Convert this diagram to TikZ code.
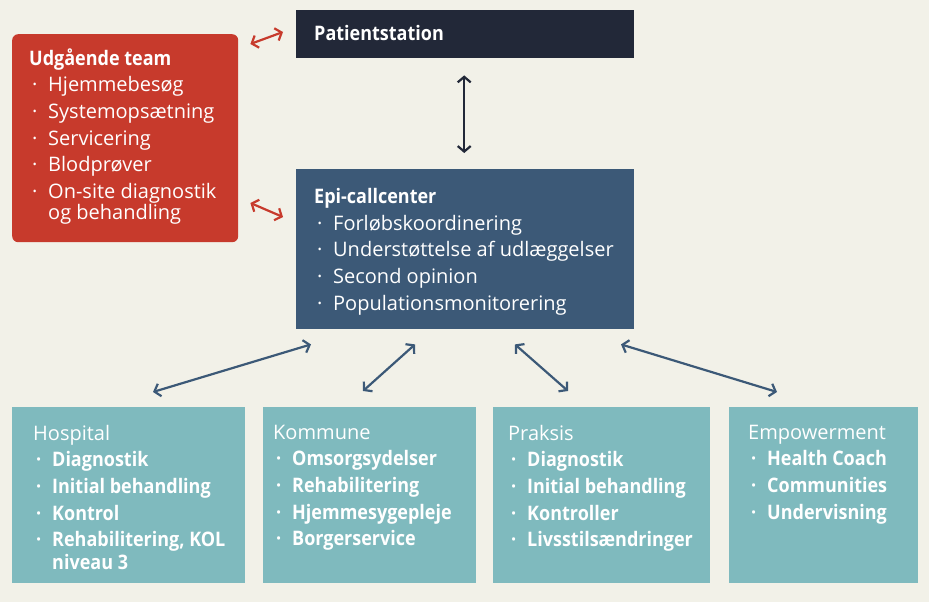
\documentclass[tikz,border=0pt]{standalone}
\usepackage{fontspec}
\setmainfont{Open Sans}[BoldFeatures={FakeStretch=0.9}]
\usetikzlibrary{arrows.meta,calc,positioning}
\definecolor{bgcream}{HTML}{F2F1E8}
\definecolor{navy}{HTML}{222838}
\definecolor{teamred}{HTML}{C73A2C}
\definecolor{epiblue}{HTML}{3C5977}
\definecolor{sea}{HTML}{7FBABE}
\newcommand{\itm}{\makebox[19pt][l]{\hspace{3pt}\textperiodcentered}}
\newcommand{\wrp}{\hspace*{19pt}}

\begin{document}
\begin{tikzpicture}[x=1pt, y=-1pt,
    box/.style={rectangle, inner sep=0pt, anchor=north west},
    txt/.style={anchor=north west, yshift=18.62pt, inner sep=0pt, align=left, text=white,
        font=\fontsize{20}{26.6}\selectfont, execute at begin node=\rule{0pt}{18.62pt}},
    btxt/.style={txt, font=\fontsize{20}{26.6}\selectfont\bfseries},
    arr/.style={line width=2.2pt, {Straight Barb[length=5.5pt,width=13pt]}-{Straight Barb[length=5.5pt,width=13pt]}}]
        \fill[bgcream] (0,0) rectangle (929,602);
        \useasboundingbox (0,0) rectangle (929,602);
        %boxes
        \node[box, fill=navy, minimum width=338pt, minimum height=48pt] (patient) at (296,10) {};
        \node[box, fill=teamred, rounded corners=6pt, minimum width=226pt, minimum height=208pt] (team) at (12,34) {};
        \node[box, fill=epiblue, minimum width=338pt, minimum height=160pt] (epi) at (296,169) {};
        \node[box, fill=sea, minimum width=233pt, minimum height=176pt] (hosp) at (12,407) {};
        \node[box, fill=sea, minimum width=213pt, minimum height=176pt] (komm) at (263,407) {};
        \node[box, fill=sea, minimum width=217pt, minimum height=176pt] (prak) at (493,407) {};
        \node[box, fill=sea, minimum width=189pt, minimum height=176pt] (empo) at (729,407) {};
        %texts
        \node[btxt] (patienttxt) at (314,40.3) {Patientstation};
        \node[txt] (teamtxt) at (29,67) {\textbf{Udgående team}\\
            \itm Hjemmebesøg\\ \itm Systemopsætning\\ \itm Servicering\\ \itm Blodprøver\\
            \itm On-site diagnostik\\[-5.6pt] \wrp og behandling};
        \node[txt] (epitxt) at (314,207) {\textbf{Epi-callcenter}\\
            \itm Forløbskoordinering\\ \itm Understøttelse af udlæggelser\\
            \itm Second opinion\\ \itm Populationsmonitorering};
        \node[btxt] (hosptxt) at (33,443.5) {\mdseries Hospital\\
            \itm Diagnostik\\ \itm Initial behandling\\ \itm Kontrol\\
            \itm Rehabilitering, KOL\\[-3.6pt] \wrp niveau 3};
        \node[btxt] (kommtxt) at (273,443.5) {\mdseries Kommune\\
            \itm Omsorgsydelser\\ \itm Rehabilitering\\ \itm Hjemmesygepleje\\ \itm Borgerservice};
        \node[btxt] (praktxt) at (508,443.5) {\mdseries Praksis\\
            \itm Diagnostik\\ \itm Initial behandling\\ \itm Kontroller\\ \itm Livsstilsændringer};
        \node[btxt] (empotxt) at (748,443.5) {\mdseries Empowerment\\
            \itm Health Coach\\ \itm Communities\\ \itm Undervisning};
        %edges
        \draw[arr, teamred] ($(team.north east)+(12,10)$) -- ($(patient.north west)+(-13,22)$);
        \draw[arr, teamred] ($(team.north east)+(12,169)$) -- ($(epi.north west)+(-13,48)$);
        \draw[arr, navy] ($(patient.south)+(-1,17)$) -- ($(epi.north)+(-1,-16)$);
        \draw[arr, epiblue] ($(hosp.north west)+(141,-15)$) -- ($(epi.south west)+(15,15)$);
        \draw[arr, epiblue] ($(komm.north west)+(100,-16)$) -- ($(epi.south west)+(119,15)$);
        \draw[arr, epiblue] ($(prak.north west)+(75,-16)$) -- ($(epi.south west)+(219,15)$);
        \draw[arr, epiblue] ($(empo.north west)+(48,-15)$) -- ($(epi.south west)+(325,15)$);
      \end{tikzpicture}
\end{document}
